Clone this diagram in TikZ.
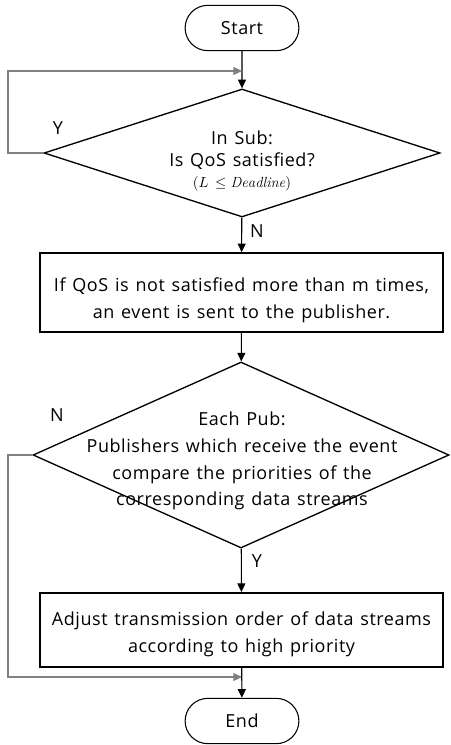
\documentclass[tikz,border=0pt]{standalone}
\usepackage{fontspec}
\setsansfont{Open Sans}[LetterSpace=3, WordSpace=1.3]
\usepackage{amsmath, amssymb}
\usepackage{tikz}
\usetikzlibrary{positioning, shapes.geometric, shapes.misc, arrows.meta}

\begin{document}
\begin{tikzpicture}[x=0.75pt, y=-0.75pt,
    term/.style={draw, thick, rounded rectangle, minimum width=92pt,
                 minimum height=34pt, font=\sffamily\fontsize{13.5}{16}\selectfont},
    block/.style={draw, line width=1.4pt, minimum width=302pt},
    decision/.style={draw, diamond, line width=1pt, inner sep=0pt},
    dtext/.style={align=center, font=\sffamily\fontsize{13.5}{20}\selectfont},
    yn/.style={font=\sffamily\fontsize{13.5}{16}\selectfont},
    arw/.style={-{Triangle[length=6.5pt, width=6pt]}, line width=0.8pt},
    loopback/.style={-{Triangle[length=6.5pt, width=6pt]}, line width=0.8pt, gray},
]
\useasboundingbox (0,0) rectangle (450,745);

% --- Start ---
\node[term] (start) at (242,28) {Start};

% --- Decision 1 ---
\node[decision, minimum width=297pt, minimum height=96pt] (qos) at (242,153) {};
\node[dtext, font=\sffamily\fontsize{13.5}{16.5}\selectfont] (qostext) at (242,161)
    {In Sub:\\Is QoS satisfied?\\[-1pt]
     {\fontsize{11}{13}\selectfont $(L\,\leq \mathit{Deadline})$}};

% --- Event box ---
\node[block, minimum height=59pt] (event) at (241.5,292.5) {};
\node[dtext] (eventtext) at (241.5,300)
    {If QoS is not satisfied more than m times,\\an event is sent to the publisher.};

% --- Decision 2 ---
\node[decision, minimum width=312pt, minimum height=139.5pt] (pub) at (241,455) {};
\node[dtext] (pubtext) at (242,461)
    {Each Pub:\\Publishers which receive the event\\compare the priorities of the\\corresponding data streams};

% --- Adjust box ---
\node[block, minimum height=55.5pt] (adjust) at (241.5,630) {};
\node[dtext] (adjusttext) at (241.5,634)
    {Adjust transmission order of data streams\\according to high priority};

% --- End ---
\node[term] (end) at (242,721) {End};

% --- Join points ---
\coordinate (join1) at (242,71);
\coordinate (join2) at (242,677);

% --- Main flow ---
\draw[arw] (start) -- (qos);
\draw[arw] (qos) -- (event);
\draw[arw] (event) -- (pub);
\draw[arw] (pub) -- (adjust);
\draw[arw] (adjust) -- (end);

% --- Loops ---
\draw[loopback] (qos.west) -- (8,153) |- (join1);
\draw[loopback] (pub.west) -- (8,455) |- (join2);

% --- Labels ---
\node[yn] (y1) at (58,128) {Y};
\node[yn] (n1) at (257,231) {N};
\node[yn] (n2) at (57,415) {N};
\node[yn] (y2) at (257,561) {Y};
\end{tikzpicture}
\end{document}
